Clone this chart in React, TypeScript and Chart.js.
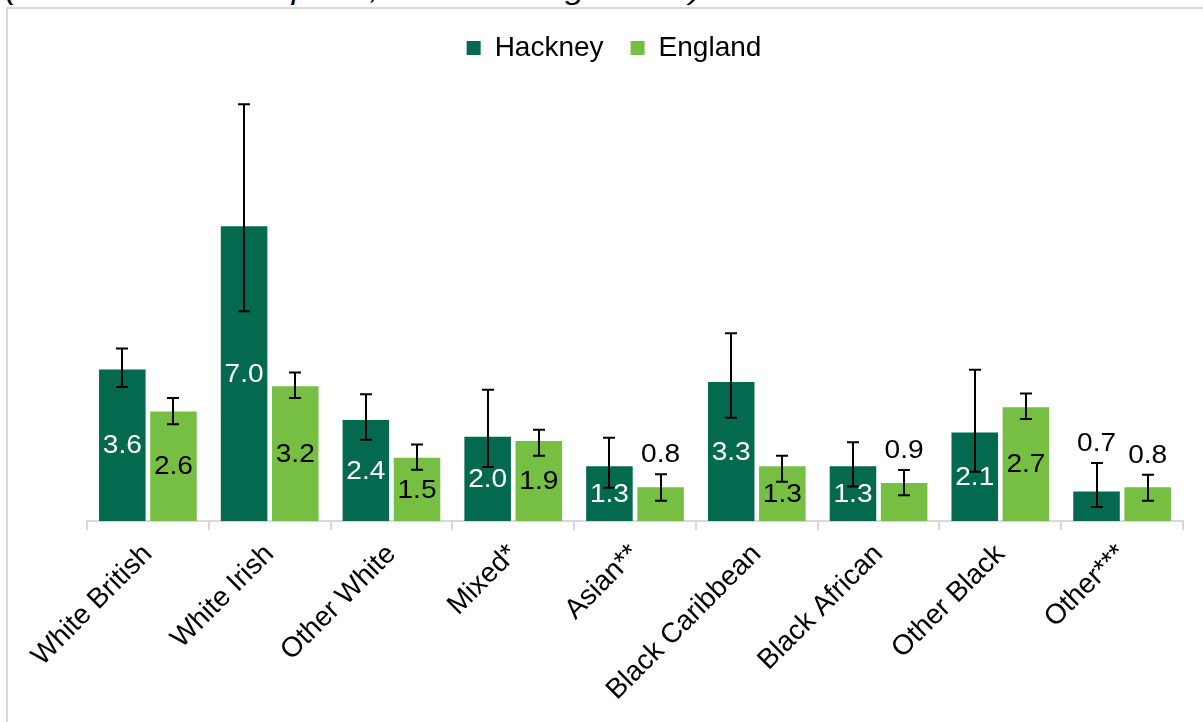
import { useEffect, useRef } from 'react';
import { Chart, registerables } from 'chart.js';

Chart.register(...registerables);

// Deaths per 1,000 adults, by ethnic group
const categories = [
  'White British',
  'White Irish',
  'Other White',
  'Mixed*',
  'Asian**',
  'Black Caribbean',
  'Black African',
  'Other Black',
  'Other***',
];
const seriesNames = ['Hackney', 'England'];

const hackneyRates = [3.6, 7.0, 2.4, 2.0, 1.3, 3.3, 1.3, 2.1, 0.7];
const englandRates = [2.6, 3.2, 1.5, 1.9, 0.8, 1.3, 0.9, 2.7, 0.8];

// 95% confidence intervals
const hackneyLower = [3.18, 4.98, 1.93, 1.28, 0.79, 2.45, 0.82, 1.17, 0.33];
const hackneyUpper = [4.1, 9.9, 3.01, 3.12, 1.98, 4.46, 1.87, 3.59, 1.38];
const englandLower = [2.3, 2.92, 1.22, 1.55, 0.48, 0.93, 0.61, 2.42, 0.48];
const englandUpper = [2.92, 3.53, 1.82, 2.17, 1.11, 1.55, 1.21, 3.03, 1.1];

const subtitle = '(number of deaths per 1,000 adults aged 18+)';

const FONT = "'Liberation Sans', Arial, Helvetica, sans-serif";
const DARK_GREEN = '#03694F';
const LIGHT_GREEN = '#77BF43';
const AXIS_GREY = '#d9d9d9';

const intervals = [
  [hackneyLower, hackneyUpper],
  [englandLower, englandUpper],
];

// Whiskers with caps for each bar
const errorBarsPlugin = {
  id: 'errorBars',
  afterDatasetsDraw(chart: any) {
    const { ctx } = chart;
    const yScale = chart.scales.y;
    ctx.save();
    ctx.strokeStyle = '#000';
    ctx.lineWidth = 2;
    chart.data.datasets.forEach((_ds: any, di: number) => {
      const meta = chart.getDatasetMeta(di);
      meta.data.forEach((bar: any, i: number) => {
        const x = Math.round(bar.x);
        const top = yScale.getPixelForValue(intervals[di][1][i]);
        const bottom = yScale.getPixelForValue(intervals[di][0][i]);
        ctx.beginPath();
        ctx.moveTo(x, top);
        ctx.lineTo(x, bottom);
        ctx.moveTo(x - 6, top);
        ctx.lineTo(x + 6, top);
        ctx.moveTo(x - 6, bottom);
        ctx.lineTo(x + 6, bottom);
        ctx.stroke();
      });
    });
    ctx.restore();
  },
};

// Value labels: centred in the bar, or above the whisker for short bars
const valueLabelsPlugin = {
  id: 'valueLabels',
  afterDraw(chart: any) {
    const { ctx } = chart;
    const yScale = chart.scales.y;
    ctx.save();
    ctx.font = `26px ${FONT}`;
    ctx.textAlign = 'center';
    ctx.textBaseline = 'middle';
    chart.data.datasets.forEach((ds: any, di: number) => {
      const meta = chart.getDatasetMeta(di);
      meta.data.forEach((bar: any, i: number) => {
        const v = ds.data[i] as number;
        const text = v.toFixed(1);
        let y: number;
        let color: string;
        if (v < 1) {
          y = yScale.getPixelForValue(intervals[di][1][i]) - 19;
          color = '#000';
        } else {
          y = (bar.y + bar.base) / 2 + 1;
          color = di === 0 ? '#fff' : '#000';
        }
        ctx.fillStyle = color;
        ctx.save();
        ctx.translate(bar.x, y);
        ctx.scale(1.08, 1);
        ctx.fillText(text, 0, 0);
        ctx.restore();
      });
    });
    ctx.restore();
  },
};

// Extra space between the legend and the plot
const legendSpacingPlugin = {
  id: 'legendSpacing',
  beforeLayout(chart: any) {
    const legend = chart.legend;
    if (legend && !legend.__spaced) {
      const fit = legend.fit.bind(legend);
      legend.fit = function () {
        fit();
        this.height = 93;
      };
      legend.__spaced = true;
    }
  },
};

export default function App() {
  const canvasRef = useRef<HTMLCanvasElement | null>(null);

  useEffect(() => {
    if (!canvasRef.current) return;
    const chart = new Chart(canvasRef.current, {
      type: 'bar',
      data: {
        labels: categories,
        datasets: [
          {
            label: seriesNames[0],
            data: hackneyRates,
            backgroundColor: DARK_GREEN,
            categoryPercentage: 0.84,
            barPercentage: 0.91,
          },
          {
            label: seriesNames[1],
            data: englandRates,
            backgroundColor: LIGHT_GREEN,
            categoryPercentage: 0.84,
            barPercentage: 0.91,
          },
        ],
      },
      options: {
        responsive: false,
        animation: false,
        layout: { padding: { left: 45, right: 20, top: 7, bottom: 0 } },
        plugins: {
          legend: {
            position: 'top',
            labels: {
              color: '#000',
              font: { family: FONT, size: 28 },
              boxWidth: 14,
              boxHeight: 14,
              padding: 27,
            },
          },
          tooltip: { enabled: false },
        },
        scales: {
          x: {
            grid: {
              display: true,
              drawOnChartArea: false,
              drawTicks: true,
              tickLength: 9,
              color: AXIS_GREY,
              lineWidth: 2,
              offset: true,
            },
            border: { display: true, color: AXIS_GREY, width: 2 },
            ticks: {
              color: '#000',
              font: { family: FONT, size: 28 },
              minRotation: 45,
              maxRotation: 45,
              autoSkip: false,
              padding: 8,
            },
            afterFit: (scale: any) => {
              scale.height = 201;
            },
          },
          y: {
            min: 0,
            max: 10,
            display: true,
            grid: { display: false },
            border: { display: false },
            ticks: { display: false },
            afterFit: (scale: any) => {
              scale.width = 42;
            },
          },
        },
      },
      plugins: [errorBarsPlugin, valueLabelsPlugin, legendSpacingPlugin],
    });
    return () => chart.destroy();
  }, []);

  return (
    <div
      style={{
        position: 'absolute',
        left: 0,
        top: 0,
        width: 1203,
        height: 722,
        overflow: 'hidden',
        background: '#fff',
      }}
    >
      <div
        style={{
          position: 'absolute',
          left: 5,
          top: -24,
          font: `italic 28px/28px ${FONT}`,
          color: '#000',
          whiteSpace: 'nowrap',
          transform: 'scaleX(1.22)',
          transformOrigin: 'left top',
        }}
      >
        {subtitle}
      </div>
      <div
        style={{
          position: 'absolute',
          left: 6,
          top: 7,
          width: 1400,
          height: 900,
          border: `2px solid ${AXIS_GREY}`,
          boxSizing: 'border-box',
        }}
      />
      <canvas
        ref={canvasRef}
        width={1203}
        height={722}
        style={{ position: 'absolute', left: 0, top: 0, display: 'block' }}
      />
    </div>
  );
}
